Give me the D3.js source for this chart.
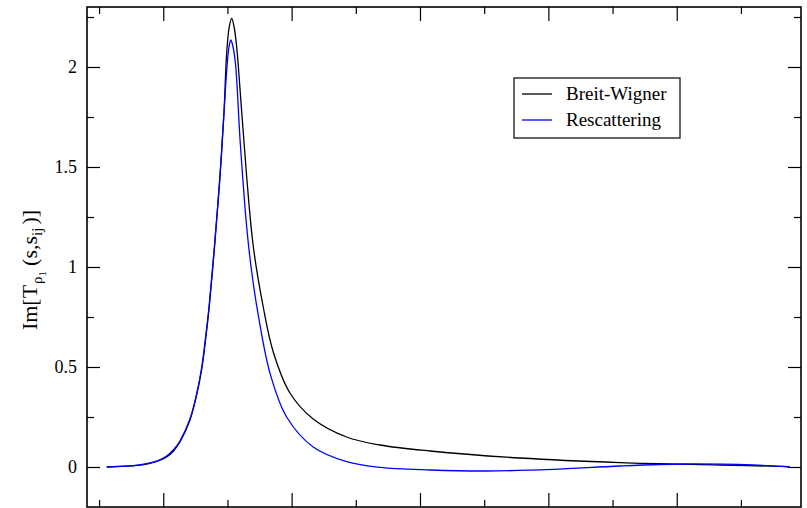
<!DOCTYPE html>
<html>
<head>
<meta charset="utf-8">
<script src="https://cdn.jsdelivr.net/npm/d3@7"></script>
<style>
  body { margin: 0; background: #fff; }
  svg { display: block; }
  text { font-family: "Liberation Serif", "Times New Roman", serif; fill: #000; }
</style>
</head>
<body>
<svg id="chart" width="807" height="508"></svg>
<script>
// sqrt(s) values (GeV) and Im[T] for each model
const bwX = [0.28, 0.40, 0.448, 0.48, 0.513, 0.54, 0.565, 0.604, 0.630, 0.650, 0.666, 0.679, 0.701, 0.721, 0.737, 0.747, 0.757, 0.7665, 0.776, 0.786, 0.805, 0.825, 0.851, 0.8895, 0.9285, 0.9935, 1.084, 1.214, 1.344, 1.539, 1.889, 2.279, 2.668, 2.94];
const bwY = [0, 0.008, 0.018, 0.03, 0.05, 0.08, 0.125, 0.235, 0.36, 0.49, 0.65, 0.80, 1.12, 1.45, 1.785, 2.07, 2.20, 2.243, 2.20, 2.10, 1.785, 1.45, 1.10, 0.80, 0.575, 0.37, 0.24, 0.15, 0.11, 0.08, 0.045, 0.022, 0.01, 0.002];
const rsX = [0.28, 0.40, 0.448, 0.48, 0.513, 0.54, 0.565, 0.604, 0.630, 0.650, 0.666, 0.679, 0.701, 0.721, 0.737, 0.747, 0.756, 0.763, 0.770, 0.781, 0.800, 0.825, 0.845, 0.870, 0.9156, 0.9806, 1.084, 1.214, 1.344, 1.539, 1.76, 2.018, 2.279, 2.538, 2.796, 2.94];
const rsY = [0, 0.009, 0.02, 0.032, 0.055, 0.086, 0.13, 0.24, 0.365, 0.50, 0.66, 0.81, 1.13, 1.46, 1.78, 1.98, 2.10, 2.135, 2.11, 2.02, 1.62, 1.20, 0.97, 0.76, 0.47, 0.25, 0.10, 0.027, -0.002, -0.015, -0.02, -0.012, 0.005, 0.015, 0.01, 0];

const xMajor = [0.5, 1.0, 1.5, 2.0, 2.5];
const xMinor = [0.25, 0.75, 1.25, 1.75, 2.25, 2.75];
const yMajor = [0, 0.5, 1, 1.5, 2];
const yMinor = [0.25, 0.75, 1.25, 1.75, 2.25];
const yTickLabels = ["0", "0.5", "1", "1.5", "2"];
const seriesNames = ["Breit-Wigner", "Rescattering"];
const seriesColors = ["#000000", "#0000ff"];

const L = 87, R = 801, T = 7, B = 507;
const svg = d3.select("#chart");
const x = d3.scaleLinear().domain([0.203, 2.984]).range([L, R]);
const y = d3.scaleLinear().domain([-0.2, 2.3]).range([B, T]);

function styleAxis(g) {
  g.select(".domain").remove();
  g.selectAll(".tick line").attr("stroke", "#000").attr("stroke-width", 1.2);
  g.selectAll(".tick text").style("font-size", "18px").style("font-family", "'Liberation Serif', serif");
}

// major/minor ticks on all sides (inward)
svg.append("g").attr("transform", `translate(0,${B})`)
  .call(d3.axisBottom(x).tickValues(xMajor).tickSize(-14).tickFormat("")).call(styleAxis);
svg.append("g").attr("transform", `translate(0,${B})`)
  .call(d3.axisBottom(x).tickValues(xMinor).tickSize(-7).tickFormat("")).call(styleAxis);
svg.append("g").attr("transform", `translate(0,${T})`)
  .call(d3.axisTop(x).tickValues(xMajor).tickSize(-14).tickFormat("")).call(styleAxis);
svg.append("g").attr("transform", `translate(0,${T})`)
  .call(d3.axisTop(x).tickValues(xMinor).tickSize(-7).tickFormat("")).call(styleAxis);

svg.append("g").attr("transform", `translate(${L},0)`)
  .call(d3.axisLeft(y).tickValues(yMajor).tickSize(-13).tickPadding(10)
    .tickFormat((d, i) => yTickLabels[i])).call(styleAxis);
svg.append("g").attr("transform", `translate(${L},0)`)
  .call(d3.axisLeft(y).tickValues(yMinor).tickSize(-7).tickFormat("")).call(styleAxis);
svg.append("g").attr("transform", `translate(${R},0)`)
  .call(d3.axisRight(y).tickValues(yMajor).tickSize(-13).tickFormat("")).call(styleAxis);
svg.append("g").attr("transform", `translate(${R},0)`)
  .call(d3.axisRight(y).tickValues(yMinor).tickSize(-7).tickFormat("")).call(styleAxis);

// curves
const line = d3.line().x(d => x(d[0])).y(d => y(d[1])).curve(d3.curveCatmullRom.alpha(0.5));
const series = [d3.zip(bwX, bwY), d3.zip(rsX, rsY)];
series.forEach((s, i) => {
  svg.append("path").datum(s).attr("d", line)
    .attr("fill", "none").attr("stroke", seriesColors[i]).attr("stroke-width", 1.3);
});

// frame
svg.append("rect").attr("x", L).attr("y", T).attr("width", R - L).attr("height", B - T)
  .attr("fill", "none").attr("stroke", "#000").attr("stroke-width", 1.6);

// y label
const yl = svg.append("text").attr("transform", "translate(37,270) rotate(-90)")
  .attr("text-anchor", "middle").style("font-size", "22px");
yl.append("tspan").text("Im[T");
yl.append("tspan").attr("dy", 5).attr("dx", 1).style("font-size", "15px").text("ρ");
yl.append("tspan").attr("dy", 4).style("font-size", "11px").text("1");
yl.append("tspan").attr("dy", -9).attr("dx", 5).style("font-size", "22px").text("(s,s");
yl.append("tspan").attr("dy", 5).style("font-size", "15px").text("ij");
yl.append("tspan").attr("dy", -5).attr("dx", 3).style("font-size", "22px").text(")]");

// legend
const lg = svg.append("g");
lg.append("rect").attr("x", 514).attr("y", 78).attr("width", 166).attr("height", 60)
  .attr("fill", "#fff").attr("stroke", "#000").attr("stroke-width", 1.2);
seriesNames.forEach((n, i) => {
  const ly = 94 + i * 26;
  lg.append("line").attr("x1", 522).attr("x2", 552).attr("y1", ly).attr("y2", ly)
    .attr("stroke", seriesColors[i]).attr("stroke-width", 1.3);
  lg.append("text").attr("x", 566).attr("y", ly + 6).style("font-size", "19px").text(n);
});
</script>
</body>
</html>
